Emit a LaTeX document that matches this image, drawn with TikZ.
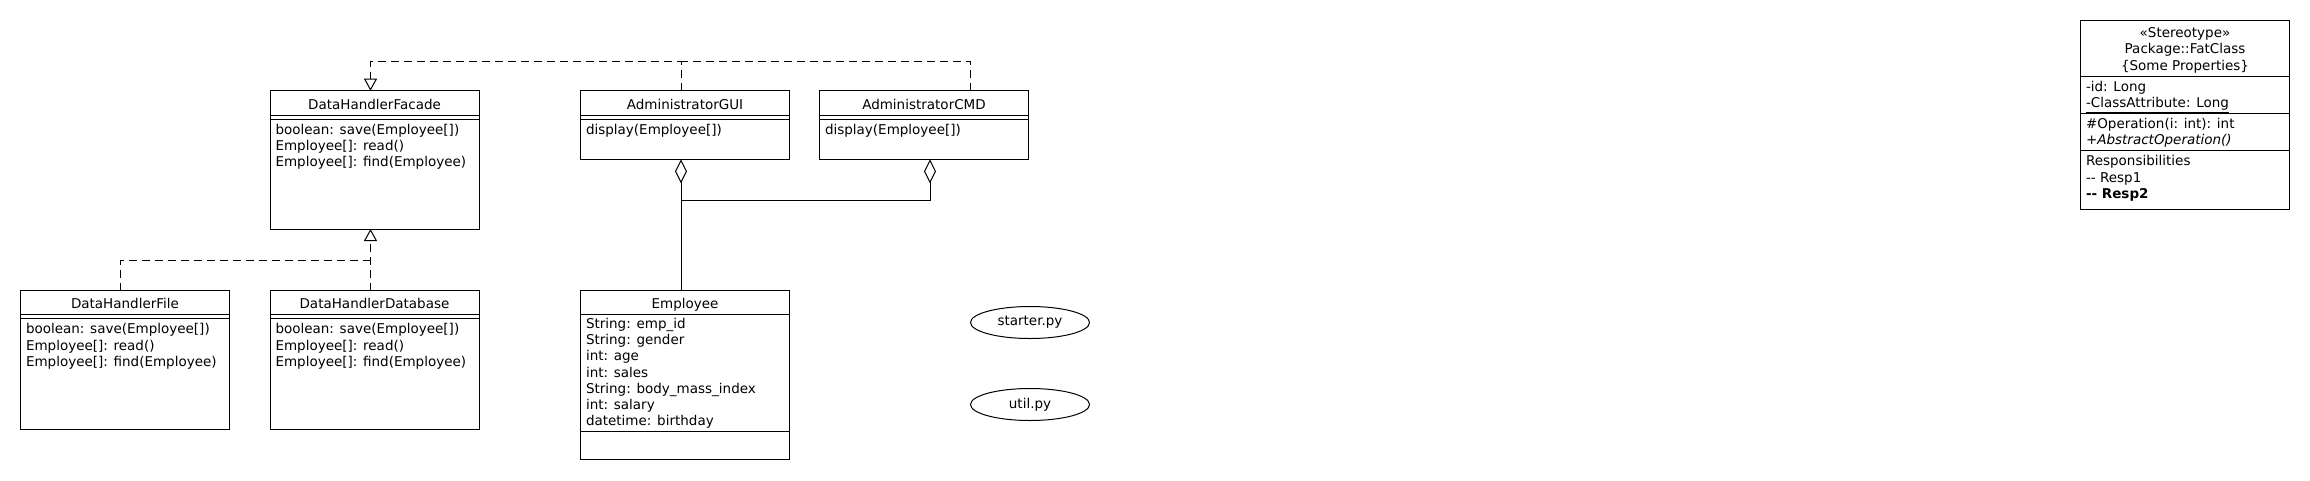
\documentclass[tikz,border=0pt]{standalone}
\usepackage{fontspec}
\setmainfont{DejaVu Sans}[Ligatures=TeXOff]
\usetikzlibrary{shapes,arrows.meta,positioning}

\begin{document}
\begin{tikzpicture}[x=1pt,y=-1pt,line width=1pt,%
  every node/.style = {font=\fontsize{13.5}{16.2}\selectfont},%
  classe/.style     = {draw,anchor=north west,inner sep=0pt,outer sep=0pt,minimum width=209},%
  titre/.style      = {anchor=base,inner sep=0pt},%
  corps/.style      = {anchor=north west,align=left,inner sep=0pt},%
  fichier/.style    = {draw,ellipse,minimum width=119,minimum height=32,inner sep=0pt},%
  pointille/.style  = {dash pattern=on 8pt off 5pt},%
  realise/.style    = {pointille,-{Triangle[open,width=13pt,length=12pt]}},%
  agreg/.style      = {{Diamond[open,width=12pt,length=24pt]}-}]
\useasboundingbox (0,0) rectangle (2310,480);

% les classes du haut
\node[classe,minimum height=138.3] (facade) at (270,90.7) {};
\node[titre] (facadeT) at ([yshift=-18.6pt]facade.north) {DataHandlerFacade};
\draw (facade.north west) ++(0,24.3) -- ++(209,0) ++(0,4) -- ++(-209,0);
\node[corps] (facadeM) at ([xshift=5pt,yshift=-33pt]facade.north west)%
  {boolean: save(Employee[])\\Employee[]: read()\\Employee[]: find(Employee)};

\node[classe,minimum height=68.6] (gui) at (580.5,90.7) {};
\node[titre] (guiT) at ([yshift=-18.6pt]gui.north) {AdministratorGUI};
\draw (gui.north west) ++(0,24.3) -- ++(209,0) ++(0,4) -- ++(-209,0);
\node[corps] (guiM) at ([xshift=5pt,yshift=-33pt]gui.north west) {display(Employee[])};

\node[classe,minimum height=68.6] (cmd) at (819.5,90.7) {};
\node[titre] (cmdT) at ([yshift=-18.6pt]cmd.north) {AdministratorCMD};
\draw (cmd.north west) ++(0,24.3) -- ++(209,0) ++(0,4) -- ++(-209,0);
\node[corps] (cmdM) at ([xshift=5pt,yshift=-33pt]cmd.north west) {display(Employee[])};

% les classes du bas
\node[classe,minimum height=138.6] (fichierDH) at (20.5,290.7) {};
\node[titre] (fichierDHT) at ([yshift=-18pt]fichierDH.north) {DataHandlerFile};
\draw (fichierDH.north west) ++(0,23.6) -- ++(209,0) ++(0,4.6) -- ++(-209,0);
\node[corps] (fichierDHM) at ([xshift=5pt,yshift=-32.5pt]fichierDH.north west)%
  {boolean: save(Employee[])\\Employee[]: read()\\Employee[]: find(Employee)};

\node[classe,minimum height=138.6] (base) at (270,290.7) {};
\node[titre] (baseT) at ([yshift=-18pt]base.north) {DataHandlerDatabase};
\draw (base.north west) ++(0,23.6) -- ++(209,0) ++(0,4.6) -- ++(-209,0);
\node[corps] (baseM) at ([xshift=5pt,yshift=-32.5pt]base.north west)%
  {boolean: save(Employee[])\\Employee[]: read()\\Employee[]: find(Employee)};

\node[classe,minimum height=168.3] (employe) at (580.5,290.7) {};
\node[titre] (employeT) at ([yshift=-18pt]employe.north) {Employee};
\draw (employe.north west) ++(0,23.3) -- ++(209,0);
\draw (employe.north west) ++(0,141) -- ++(209,0);
\node[corps] (employeA) at ([xshift=5pt,yshift=-27pt]employe.north west)%
  {String: emp\_id\\String: gender\\int: age\\int: sales\\%
   String: body\_mass\_index\\int: salary\\datetime: birthday};

% les fichiers
\node[fichier] (starter) at (1030,322.5) {starter.py};
\node[fichier] (util) at (1030,404.5) {util.py};

% la classe modele
\node[classe,minimum height=188.6] (fat) at (2080.5,20.7) {};
\node[anchor=north,align=center,inner sep=0pt] (fatT) at ([yshift=-6.5pt]fat.north)%
  {«Stereotype»\\Package::FatClass\\\{Some Properties\}};
\draw (fat.north west) ++(0,55.6) -- ++(209,0);
\draw (fat.north west) ++(0,92.6) -- ++(209,0);
\draw (fat.north west) ++(0,129.6) -- ++(209,0);
\node[corps] (fatA) at ([xshift=5pt,yshift=-60pt]fat.north west)%
  {-id: Long\\\underline{-ClassAttribute: Long}};
\node[corps] (fatO) at ([xshift=5pt,yshift=-97pt]fat.north west)%
  {\#Operation(i: int): int\\+\textit{AbstractOperation()}};
\node[corps] (fatR) at ([xshift=5pt,yshift=-134.5pt]fat.north west)%
  {Responsibilities\\-- Resp1\\\textbf{-- Resp2}};

% les relations
\coordinate (coude) at (370.5,61);
\coordinate (jonction) at (370.5,260.3);
\coordinate (coin) at (680.7,200);
\draw[realise] ([xshift=-4pt]gui.north) |- (coude) -- ([xshift=-4pt]facade.north);
\draw[pointille] ([xshift=46pt]cmd.north) |- ([xshift=-4pt]gui.north |- coude);
\draw[realise] ([xshift=-4pt]base.north) -- ([xshift=-4pt]facade.south);
\draw[pointille] ([xshift=-5pt]fichierDH.north) |- (jonction);
\draw[agreg] ([xshift=-4pt]gui.south) -- ([xshift=-4pt]employe.north);
\draw[agreg] ([xshift=6pt]cmd.south) |- (coin);
\end{tikzpicture}
\end{document}
